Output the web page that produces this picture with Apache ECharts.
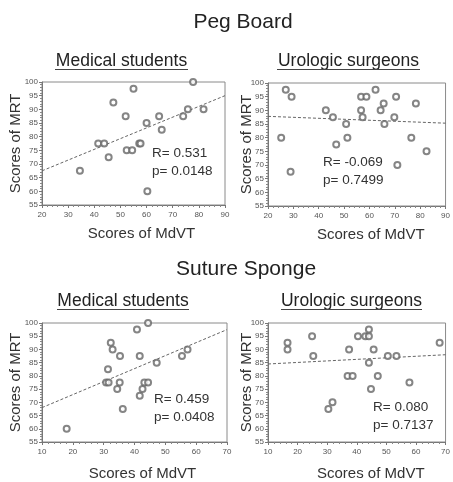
<!DOCTYPE html>
<html>
<head>
<meta charset="utf-8">
<script src="https://cdn.jsdelivr.net/npm/echarts@6/dist/echarts.min.js"></script>
<style>
html,body{margin:0;padding:0;background:#fff;}
#c{width:453px;height:482px;}
</style>
</head>
<body>
<div id="c"></div>
<script>
// ---- Data ----
// Peg Board - Medical students
const pegStudentsMdVT = [34.5, 41.5, 43.8, 45.5, 47.3, 52.0, 52.4, 54.5, 55.0, 57.2, 57.7, 60.0, 60.3, 64.8, 65.8, 74.0, 75.8, 77.8, 81.8];
const pegStudentsMRT  = [67.5, 77.5, 77.5, 72.5, 92.5, 87.5, 75.0, 75.0, 97.5, 77.5, 77.5, 85.0, 60.0, 87.5, 82.5, 87.5, 90.0, 100.0, 90.0];
const pegStudentsFitX = [20, 90];
const pegStudentsFitY = [67.5, 95.0];

// Peg Board - Urologic surgeons
const pegSurgeonsMdVT = [25.2, 27.0, 29.3, 28.9, 42.8, 45.6, 46.9, 50.8, 51.3, 56.7, 56.7, 57.3, 58.8, 62.4, 64.4, 65.6, 65.9, 69.8, 70.5, 71.0, 76.5, 78.3, 82.5];
const pegSurgeonsMRT  = [80.0, 97.5, 95.0, 67.5, 90.0, 87.5, 77.5, 85.0, 80.0, 95.0, 90.0, 87.5, 95.0, 97.5, 90.0, 92.5, 85.0, 87.5, 95.0, 70.0, 80.0, 92.5, 75.0];
const pegSurgeonsFitX = [20, 90];
const pegSurgeonsFitY = [87.8, 85.3];

// Suture Sponge - Medical students
const sutStudentsMdVT = [18.0, 30.8, 31.6, 31.4, 32.3, 32.9, 34.4, 35.3, 35.2, 36.2, 40.8, 41.7, 41.7, 42.6, 43.2, 44.4, 44.4, 47.2, 55.4, 57.2];
const sutStudentsMRT  = [60.0, 77.5, 77.5, 82.5, 92.5, 90.0, 75.0, 87.5, 77.5, 67.5, 97.5, 87.5, 72.5, 75.0, 77.5, 77.5, 100.0, 85.0, 87.5, 90.0];
const sutStudentsFitX = [10, 70];
const sutStudentsFitY = [68.0, 97.5];

// Suture Sponge - Urologic surgeons
const sutSurgeonsMdVT = [16.6, 16.6, 24.9, 25.3, 30.4, 31.8, 37.4, 36.9, 38.6, 40.4, 42.9, 44.1, 44.1, 44.1, 44.8, 45.7, 47.1, 50.5, 53.4, 57.8, 68.0];
const sutSurgeonsMRT  = [92.5, 90.0, 95.0, 87.5, 67.5, 70.0, 90.0, 80.0, 80.0, 95.0, 95.0, 95.0, 97.5, 85.0, 75.0, 90.0, 80.0, 87.5, 87.5, 77.5, 92.5];
const sutSurgeonsFitX = [10, 70];
const sutSurgeonsFitY = [84.5, 88.0];

// Labels
const mainTitles = ['Peg Board', 'Suture Sponge'];
const groupTitles = ['Medical students', 'Urologic surgeons'];
const statR = ['R= 0.531', 'R= -0.069', 'R= 0.459', 'R= 0.080'];
const statP = ['p= 0.0148', 'p= 0.7499', 'p= 0.0408', 'p= 0.7137'];
const yName = 'Scores of MRT';
const xName = 'Scores of MdVT';

// ---- Build ----
const zip = (a, b) => a.map((v, i) => [v, b[i]]);
const panels = [
  {x: pegStudentsMdVT, y: pegStudentsMRT, fx: pegStudentsFitX, fy: pegStudentsFitY, xmin: 20, xmax: 90},
  {x: pegSurgeonsMdVT, y: pegSurgeonsMRT, fx: pegSurgeonsFitX, fy: pegSurgeonsFitY, xmin: 20, xmax: 90},
  {x: sutStudentsMdVT, y: sutStudentsMRT, fx: sutStudentsFitX, fy: sutStudentsFitY, xmin: 10, xmax: 70},
  {x: sutSurgeonsMdVT, y: sutSurgeonsMRT, fx: sutSurgeonsFitX, fy: sutSurgeonsFitY, xmin: 10, xmax: 70}
];
const gridPos = [
  {left: 42, top: 82, width: 183, height: 123},
  {left: 268, top: 83, width: 184, height: 123},
  {left: 42, top: 323, width: 185, height: 122},
  {left: 268, top: 323, width: 184, height: 122}
];
const yGap = [19, 13.5, 19, 13.5];
const xShift = [16, 28, 16, 28];
const xGap = [21, 21, 24, 24];
const FONT = '"Liberation Sans", Arial, sans-serif';

const grids = gridPos.map(g => Object.assign({show: true, borderColor: '#8a8a8a', borderWidth: 1, backgroundColor: '#fff'}, g));
const xAxes = panels.map((p, i) => ({
  gridIndex: i, type: 'value', min: p.xmin, max: p.xmax, interval: 10,
  name: xName, nameLocation: 'middle', nameGap: xGap[i], nameMoveOverlap: false,
  nameTextStyle: {fontFamily: FONT, fontSize: 15, color: '#333', padding: [0, 0, 0, xShift[i]], verticalAlign: 'top'},
  axisLine: {lineStyle: {color: '#777'}},
  axisTick: {show: true, length: 3, lineStyle: {color: '#777'}},
  minorTick: {show: true, splitNumber: 5, length: 2, lineStyle: {color: '#888'}},
  axisLabel: {fontFamily: FONT, fontSize: 8, color: '#555', margin: 6},
  splitLine: {show: false}
}));
const yAxes = panels.map((p, i) => ({
  gridIndex: i, type: 'value', min: 55, max: 100, interval: 5,
  name: yName, nameLocation: 'middle', nameGap: yGap[i], nameRotate: 90, nameMoveOverlap: false,
  nameTextStyle: {fontFamily: FONT, fontSize: 15, color: '#333'},
  axisLine: {lineStyle: {color: '#777'}},
  axisTick: {show: true, length: 3, lineStyle: {color: '#777'}},
  minorTick: {show: true, splitNumber: 5, length: 2, lineStyle: {color: '#888'}},
  axisLabel: {fontFamily: FONT, fontSize: 8, color: '#555', margin: 4},
  splitLine: {show: false}
}));
const series = [];
panels.forEach((p, i) => {
  series.push({
    type: 'line', xAxisIndex: i, yAxisIndex: i, data: zip(p.fx, p.fy),
    symbol: 'none', silent: true, z: 1,
    lineStyle: {color: '#666', width: 1, type: [3, 2]}
  });
  series.push({
    type: 'scatter', xAxisIndex: i, yAxisIndex: i, data: zip(p.x, p.y),
    symbol: 'emptyCircle', symbolSize: 6, z: 3,
    itemStyle: {color: '#666', borderColor: '#666', borderWidth: 0.9}
  });
});

// Texts
const graphic = [];
const mainPos = [{x: 243, y: 22}, {x: 246, y: 269}];
mainTitles.forEach((t, r) => graphic.push({
  type: 'text', x: mainPos[r].x, y: mainPos[r].y,
  style: {text: t, font: '21px ' + FONT, fill: '#222', align: 'center', verticalAlign: 'middle'}
}));
const subPos = [
  {x1: 55, x2: 188, y: 61, u: 69.5},
  {x1: 277, x2: 420, y: 61, u: 69.5},
  {x1: 57, x2: 189, y: 301, u: 309.5},
  {x1: 281, x2: 422, y: 301, u: 309.5}
];
subPos.forEach((s, i) => {
  graphic.push({
    type: 'text', x: (s.x1 + s.x2) / 2, y: s.y,
    style: {text: groupTitles[i % 2], font: '17.5px ' + FONT, fill: '#222', align: 'center', verticalAlign: 'middle'}
  });
  graphic.push({
    type: 'line', shape: {x1: s.x1, y1: s.u, x2: s.x2, y2: s.u},
    style: {stroke: '#444', lineWidth: 1}
  });
});
const statPos = [
  {x: 152, y: 153},
  {x: 323, y: 162},
  {x: 154, y: 399},
  {x: 373, y: 407}
];
statPos.forEach((s, i) => {
  graphic.push({type: 'text', x: s.x, y: s.y, z: 10,
    style: {text: statR[i], font: '13.5px ' + FONT, fill: '#333', align: 'left', verticalAlign: 'middle'}});
  graphic.push({type: 'text', x: s.x, y: s.y + 18, z: 10,
    style: {text: statP[i], font: '13.5px ' + FONT, fill: '#333', align: 'left', verticalAlign: 'middle'}});
});

const chart = echarts.init(document.getElementById('c'), null, {renderer: 'canvas'});
chart.setOption({
  animation: false,
  backgroundColor: '#fff',
  grid: grids, xAxis: xAxes, yAxis: yAxes, series: series, graphic: graphic
});
</script>
</body>
</html>
